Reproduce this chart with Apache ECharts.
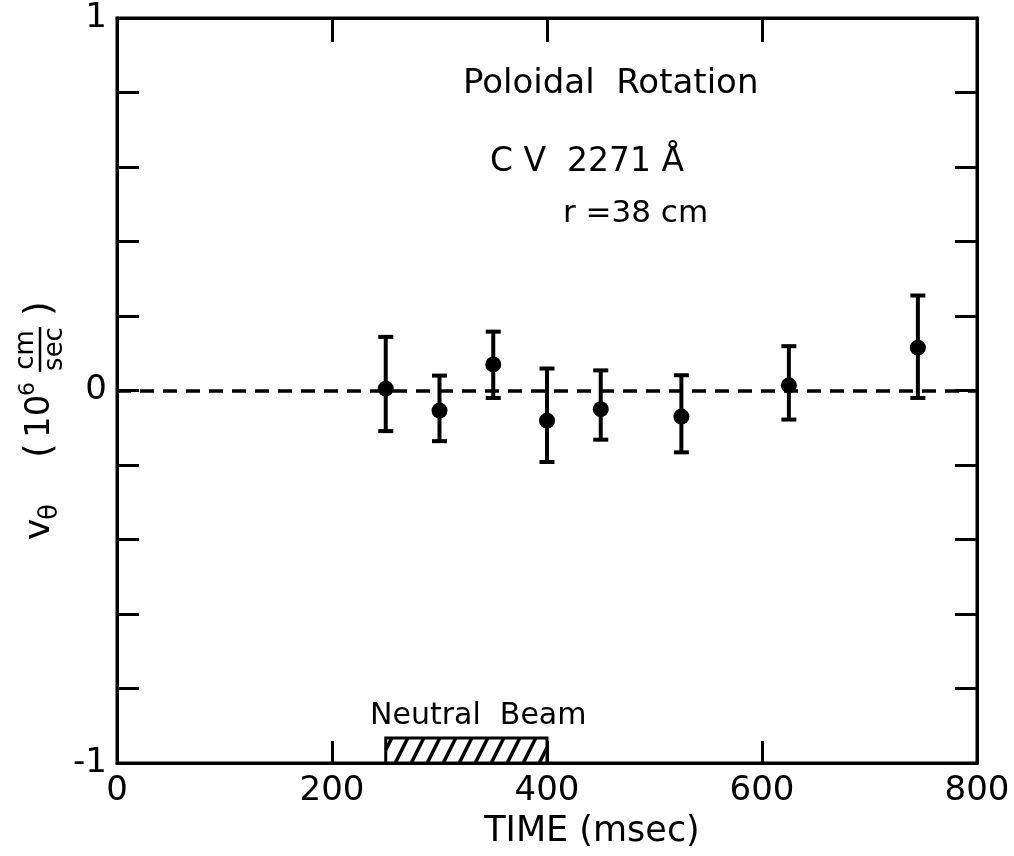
<!DOCTYPE html>
<html>
<head>
<meta charset="utf-8">
<script src="https://cdn.jsdelivr.net/npm/echarts@6/dist/echarts.min.js"></script>
<style>
html,body{margin:0;padding:0;background:#fff;}
#chart{width:1014px;height:856px;}
</style>
</head>
<body>
<div id="chart"></div>
<script>
// ---- data ----
const times    = [250, 300, 350, 400, 450, 525, 625, 745];          // msec
const vTheta   = [0.005, -0.054, 0.070, -0.081, -0.050, -0.070, 0.014, 0.115]; // 10^6 cm/sec
const errHigh  = [0.144, 0.040, 0.158, 0.059, 0.054, 0.041, 0.119, 0.255];
const errLow   = [-0.109, -0.136, -0.020, -0.192, -0.132, -0.166, -0.078, -0.020];
const beamInterval = [250, 400];                                     // neutral beam on (msec)
const xTickLabels = ['0', '200', '400', '600', '800'];
const yTickLabels = ['-1', '0', '1'];

const FONT = "'DejaVu Sans', 'Liberation Sans', sans-serif";
const chart = echarts.init(document.getElementById('chart'), null, {renderer: 'canvas'});

function yLabel(v) {
  for (const s of yTickLabels) { if (Math.abs(v - Number(s)) < 1e-9) return s; }
  return '';
}
function xLabel(v) {
  for (const s of xTickLabels) { if (Math.abs(v - Number(s)) < 1e-9) return s; }
  return '';
}

const BEAM_HEIGHT = 0.067;
const AXLINE = {show: true, onZero: false, lineStyle: {color: '#000', width: 3}};

const option = {
  animation: false,
  backgroundColor: '#fff',
  grid: {left: 117, right: 37, top: 18, bottom: 93, show: true, borderColor: '#000', borderWidth: 3,
         containLabel: false, outerBoundsMode: 'none'},
  xAxis: [
    {type: 'value', position: 'bottom', min: 0, max: 800, interval: 200,
     splitLine: {show: false},
     axisLine: AXLINE,
     axisTick: {show: true, inside: true, length: 22, lineStyle: {color: '#000', width: 3}},
     axisLabel: {show: true, color: '#000', fontSize: 34, fontFamily: FONT, margin: 11, formatter: xLabel},
     name: 'TIME (msec)', nameLocation: 'middle', nameGap: 51,
     nameTextStyle: {color: '#000', fontSize: 35, fontFamily: FONT, padding: [0, 0, 0, 90]}},
    {type: 'value', position: 'top', min: 0, max: 800, interval: 200,
     splitLine: {show: false},
     axisLine: AXLINE,
     axisTick: {show: true, inside: true, length: 24, lineStyle: {color: '#000', width: 3}},
     axisLabel: {show: false}}
  ],
  yAxis: [
    {type: 'value', position: 'left', min: -1, max: 1, interval: 0.2,
     splitLine: {show: false},
     axisLine: AXLINE,
     axisTick: {show: true, inside: true, length: 22, lineStyle: {color: '#000', width: 3}},
     axisLabel: {show: true, color: '#000', fontSize: 34, fontFamily: FONT, margin: 10, formatter: yLabel}},
    {type: 'value', position: 'right', min: -1, max: 1, interval: 0.2,
     splitLine: {show: false},
     axisLine: AXLINE,
     axisTick: {show: true, inside: true, length: 22, lineStyle: {color: '#000', width: 3}},
     axisLabel: {show: false}}
  ],
  graphic: [
    {type: 'text', left: 463, top: 67, style: {text: 'Poloidal  Rotation', font: '34px ' + FONT, fill: '#000'}},
    {type: 'text', left: 490, top: 146, style: {text: 'C Ⅴ  2271 Å', font: '33px ' + FONT, fill: '#000'}},
    {type: 'text', left: 563, top: 198, style: {text: 'r =38 cm', font: '31px ' + FONT, fill: '#000'}},
    {type: 'text', left: 370, top: 701, style: {text: 'Neutral  Beam', font: '30px ' + FONT, fill: '#000'}},
    {type: 'group', x: 40, y: 540, rotation: Math.PI / 2, children: [
      {type: 'text', x: 0, y: 0, style: {text: 'v', font: '36px ' + FONT, fill: '#000', textAlign: 'left', textVerticalAlign: 'middle', align: 'left', verticalAlign: 'middle'}},
      {type: 'text', x: 20, y: 10, style: {text: 'θ', font: '26px ' + FONT, fill: '#000', textAlign: 'left', textVerticalAlign: 'middle', align: 'left', verticalAlign: 'middle'}},
      {type: 'text', x: 82, y: 0, style: {text: '(', font: '38px ' + FONT, fill: '#000', textAlign: 'left', textVerticalAlign: 'middle', align: 'left', verticalAlign: 'middle'}},
      {type: 'text', x: 102, y: 0, style: {text: '10', font: '34px ' + FONT, fill: '#000', textAlign: 'left', textVerticalAlign: 'middle', align: 'left', verticalAlign: 'middle'}},
      {type: 'text', x: 144, y: -12, style: {text: '6', font: '22px ' + FONT, fill: '#000', textAlign: 'left', textVerticalAlign: 'middle', align: 'left', verticalAlign: 'middle'}},
      {type: 'text', x: 190, y: -14, style: {text: 'cm', font: '26px ' + FONT, fill: '#000', textAlign: 'center', textVerticalAlign: 'middle', align: 'center', verticalAlign: 'middle'}},
      {type: 'line', shape: {x1: 168, y1: 0, x2: 213, y2: 0}, style: {stroke: '#000', lineWidth: 2.5}},
      {type: 'text', x: 191, y: 15, style: {text: 'sec', font: '26px ' + FONT, fill: '#000', textAlign: 'center', textVerticalAlign: 'middle', align: 'center', verticalAlign: 'middle'}},
      {type: 'text', x: 224, y: 0, style: {text: ')', font: '38px ' + FONT, fill: '#000', textAlign: 'left', textVerticalAlign: 'middle', align: 'left', verticalAlign: 'middle'}}
    ]}
  ],
  series: [
    {
      name: 'beam', type: 'custom', xAxisIndex: 0, yAxisIndex: 0, silent: true, z: 3,
      data: [[beamInterval[0], beamInterval[1]]],
      renderItem: function (params, api) {
        const a = api.coord([api.value(0), -1]);
        const b = api.coord([api.value(1), -1 + BEAM_HEIGHT]);
        const L = a[0], R = b[0], yb = a[1], yt = b[1];
        const h = yb - yt, run = h * 0.5, step = 16;
        const children = [
          {type: 'rect', shape: {x: L, y: yt, width: R - L, height: h},
           style: {fill: '#fff', stroke: '#000', lineWidth: 3}}
        ];
        for (let x0 = L - run + 6; x0 < R; x0 += step) {
          let x1 = x0, y1 = yb, x2 = x0 + run, y2 = yt;
          if (x1 < L) { const t = (L - x1) / run; x1 = L; y1 = yb - h * t; }
          if (x2 > R) { const t = (x2 - R) / run; x2 = R; y2 = yt + h * t; }
          if (x2 <= x1) continue;
          children.push({type: 'line', shape: {x1: x1, y1: y1, x2: x2, y2: y2},
                         style: {stroke: '#000', lineWidth: 3.5}});
        }
        return {type: 'group', children: children};
      }
    },
    {
      name: 'errors', type: 'custom', xAxisIndex: 0, yAxisIndex: 0, silent: true, z: 4,
      data: times.map((t, i) => [t, errLow[i], errHigh[i]]),
      encode: {x: 0, y: [1, 2]},
      renderItem: function (params, api) {
        const x = api.value(0);
        const lo = api.coord([x, api.value(1)]);
        const hi = api.coord([x, api.value(2)]);
        const w = 7.5, st = {stroke: '#000', lineWidth: 4};
        return {type: 'group', children: [
          {type: 'line', shape: {x1: lo[0], y1: lo[1], x2: hi[0], y2: hi[1]}, style: st},
          {type: 'line', shape: {x1: hi[0] - w, y1: hi[1], x2: hi[0] + w, y2: hi[1]}, style: st},
          {type: 'line', shape: {x1: lo[0] - w, y1: lo[1], x2: lo[0] + w, y2: lo[1]}, style: st}
        ]};
      }
    },
    {
      name: 'vtheta', type: 'scatter', xAxisIndex: 0, yAxisIndex: 0, z: 5,
      symbol: 'circle', symbolSize: 16,
      itemStyle: {color: '#000', opacity: 1},
      data: times.map((t, i) => [t, vTheta[i]]),
      markLine: {
        silent: true, symbol: ['none', 'none'], label: {show: false},
        lineStyle: {color: '#000', width: 3.5, type: [14, 9], opacity: 1},
        data: [{yAxis: 0}]
      }
    }
  ]
};
chart.setOption(option);
</script>
</body>
</html>
